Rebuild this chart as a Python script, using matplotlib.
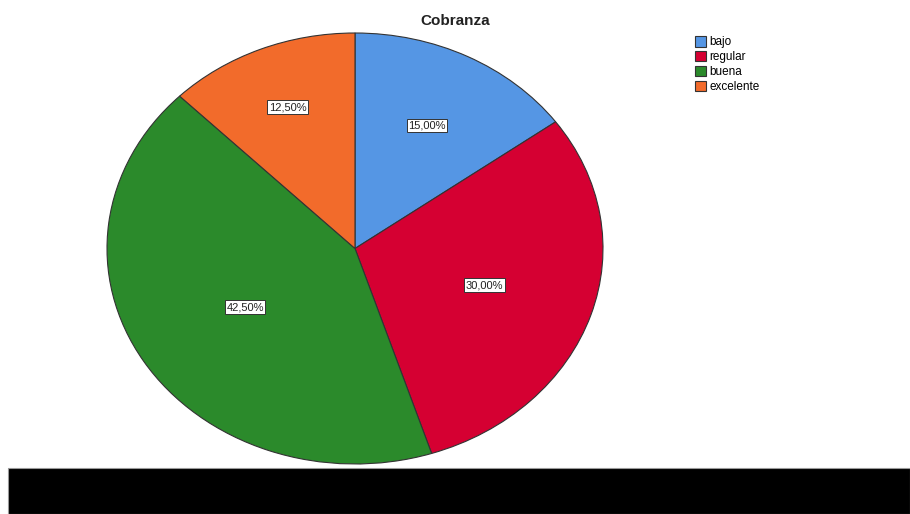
import numpy as np
import matplotlib
matplotlib.use("Agg")
import matplotlib.pyplot as plt
from matplotlib.patches import Rectangle

categories = ["bajo", "regular", "buena", "excelente"]
values = [15.0, 30.0, 42.5, 12.5]
colors = ["#5596E4", "#D50032", "#2B8A2B", "#F26B2B"]
title = "Cobranza"

# label distance from centre (fraction of radius), per wedge, as in the source styling
label_dist = [0.64, 0.55, 0.52, 0.71]

plt.rcParams['font.family'] = ['Liberation Sans', 'DejaVu Sans']

W, H = 910, 514
fig = plt.figure(figsize=(W / 100, H / 100), dpi=100)

ax = fig.add_axes([107 / W, (514 - 464) / H, 496 / W, 431 / H])
wedges, texts, autotexts = ax.pie(
    values, colors=colors, startangle=90, counterclock=False,
    autopct=lambda p: f"{p:.2f}%".replace(".", ","), pctdistance=0.6,
    wedgeprops=dict(edgecolor="#333333", linewidth=0.8),
    textprops=dict(fontsize=8, color="#222222"),
)
for w, t, d in zip(wedges, autotexts, label_dist):
    ang = np.deg2rad((w.theta1 + w.theta2) / 2)
    t.set_position((d * np.cos(ang), d * np.sin(ang)))
    t.set_bbox(dict(boxstyle="square,pad=0.15", facecolor="white", edgecolor="#333333", linewidth=0.7))
ax.set_aspect('auto')
ax.set_xlim(-1, 1)
ax.set_ylim(-1, 1)
ax.axis('off')

fig.text(455 / W, 1 - 21 / H, title, ha="center", va="center", fontsize=11, fontweight="bold", color="#222222")

handles = [Rectangle((0, 0), 1, 1, facecolor=c, edgecolor="#333333", linewidth=0.8) for c in colors]
fig.legend(handles, categories, loc="upper left", bbox_to_anchor=(695 / W, 1 - 36 / H),
           frameon=False, fontsize=8.5, handlelength=0.95, handleheight=1.0,
           handletextpad=0.25, labelspacing=0.22, borderpad=0, borderaxespad=0)

fig.patches.append(Rectangle((8 / W, 0), 1 - 8 / W, 46 / H, transform=fig.transFigure,
                             facecolor="black", edgecolor="#999999", linewidth=0.8, figure=fig))

fig.savefig("out.png", dpi=100, facecolor="white")
